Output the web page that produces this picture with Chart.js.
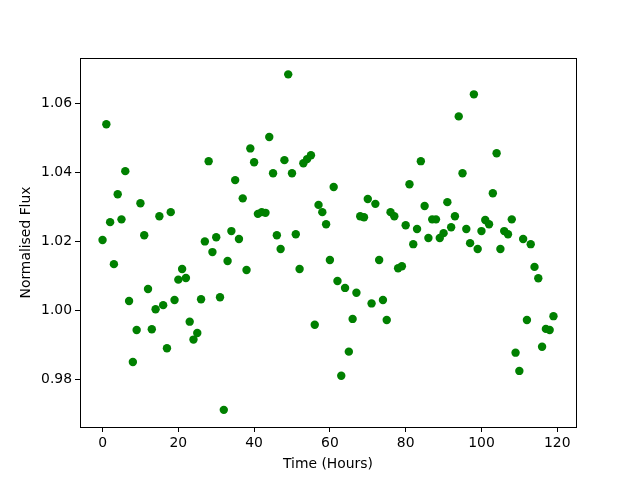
<!DOCTYPE html>
<html>
<head>
<meta charset="utf-8">
<script src="https://cdn.jsdelivr.net/npm/chart.js@4"></script>
<style>
  html, body { margin: 0; padding: 0; background: #fff; }
  #wrap { width: 640px; height: 480px; }
</style>
</head>
<body>
<div id="wrap"><canvas id="flux"></canvas></div>
<script>
// hours since start of observation
const hours = [
  0, 1, 2, 3, 4, 5, 6, 7, 8, 9, 10, 11, 12, 13, 14, 15, 16, 17, 18, 19,
  20, 21, 22, 23, 24, 25, 26, 27, 28, 29, 30, 31, 32, 33, 34, 35, 36, 37, 38, 39,
  40, 41, 42, 43, 44, 45, 46, 47, 48, 49, 50, 51, 52, 53, 54, 55, 56, 57, 58, 59,
  60, 61, 62, 63, 64, 65, 66, 67, 68, 69, 70, 71, 72, 73, 74, 75, 76, 77, 78, 79,
  80, 81, 82, 83, 84, 85, 86, 87, 88, 89, 90, 91, 92, 93, 94, 95, 96, 97, 98, 99,
  100, 101, 102, 103, 104, 105, 106, 107, 108, 109, 110, 111, 112, 113, 114, 115, 116, 117, 118, 119
];

// normalised flux
const flux = [
  1.0204, 1.0540, 1.0256, 1.0134, 1.0337, 1.0264, 1.0404, 1.0027, 0.9850, 0.9943,
  1.0311, 1.0218, 1.0062, 0.9945, 1.0003, 1.0273, 1.0015, 0.9890, 1.0285, 1.0030,
  1.0089, 1.0120, 1.0094, 0.9967, 0.9915, 0.9934, 1.0032, 1.0200, 1.0433, 1.0169,
  1.0212, 1.0038, 0.9711, 1.0143, 1.0230, 1.0378, 1.0207, 1.0325, 1.0117, 1.0470,
  1.0430, 1.0280, 1.0285, 1.0283, 1.0503, 1.0398, 1.0218, 1.0178, 1.0436, 1.0685,
  1.0398, 1.0221, 1.0120, 1.0427, 1.0439, 1.0450, 0.9958, 1.0306, 1.0285, 1.0250,
  1.0146, 1.0358, 1.0085, 0.9810, 1.0065, 0.9880, 0.9975, 1.0051, 1.0273, 1.0270,
  1.0323, 1.0020, 1.0309, 1.0146, 1.0030, 0.9972, 1.0285, 1.0273, 1.0122, 1.0128,
  1.0247, 1.0366, 1.0192, 1.0236, 1.0433, 1.0303, 1.0210, 1.0264, 1.0264, 1.0210,
  1.0224, 1.0314, 1.0241, 1.0273, 1.0563, 1.0398, 1.0236, 1.0195, 1.0627, 1.0178,
  1.0230, 1.0262, 1.0250, 1.0340, 1.0456, 1.0178, 1.0230, 1.0221, 1.0264, 0.9877,
  0.9824, 1.0207, 0.9972, 1.0192, 1.0126, 1.0093, 0.9894, 0.9946, 0.9943, 0.9983
];

const xTicks = [0, 20, 40, 60, 80, 100, 120];
const yTicks = [0.98, 1.00, 1.02, 1.04, 1.06];

const points = hours.map((h, i) => ({ x: h, y: flux[i] }));

// matplotlib style frame round the plot area
const frame = {
  id: 'frame',
  afterDraw(chart) {
    const { ctx, chartArea: a } = chart;
    ctx.save();
    ctx.strokeStyle = '#000';
    ctx.lineWidth = 1;
    ctx.strokeRect(Math.round(a.left) + 0.5, Math.round(a.top) + 0.5,
      Math.round(a.right - a.left), Math.round(a.bottom - a.top));
    ctx.restore();
  }
};

const font = { family: 'DejaVu Sans', size: 13.9 };

const ctx = document.getElementById('flux').getContext('2d');
const chart = new Chart(ctx, {
  type: 'scatter',
  data: {
    datasets: [{
      data: points,
      backgroundColor: 'green',
      borderWidth: 0,
      pointRadius: 4.2,
      pointHoverRadius: 4.2
    }]
  },
  options: {
    responsive: true,
    maintainAspectRatio: false,
    animation: false,
    layout: { padding: { top: 58, right: 64, left: 0, bottom: 0 } },
    plugins: { legend: { display: false }, tooltip: { enabled: false } },
    scales: {
      x: {
        type: 'linear',
        min: -5.95,
        max: 124.95,
        afterBuildTicks: s => { s.ticks = xTicks.map(v => ({ value: v })); },
        afterFit: s => { s.height = 53; },
        border: { display: false },
        grid: { drawOnChartArea: false, drawTicks: true, tickLength: 5, color: '#000' },
        ticks: { color: '#000', font, padding: 3, maxRotation: 0 },
        title: { display: true, text: 'Time (Hours)', color: '#000', font, padding: { top: 5, bottom: 7 } }
      },
      y: {
        type: 'linear',
        min: 0.96612,
        max: 1.07325,
        afterBuildTicks: s => { s.ticks = yTicks.map(v => ({ value: v })); },
        afterFit: s => { s.width = 80; },
        border: { display: false },
        grid: { drawOnChartArea: false, drawTicks: true, tickLength: 5, color: '#000' },
        ticks: { color: '#000', font, padding: 3, callback: v => v.toFixed(2) },
        title: { display: true, text: 'Normalised Flux', color: '#000', font, padding: { top: 18 } }
      }
    }
  },
  plugins: [frame]
});
</script>
</body>
</html>
